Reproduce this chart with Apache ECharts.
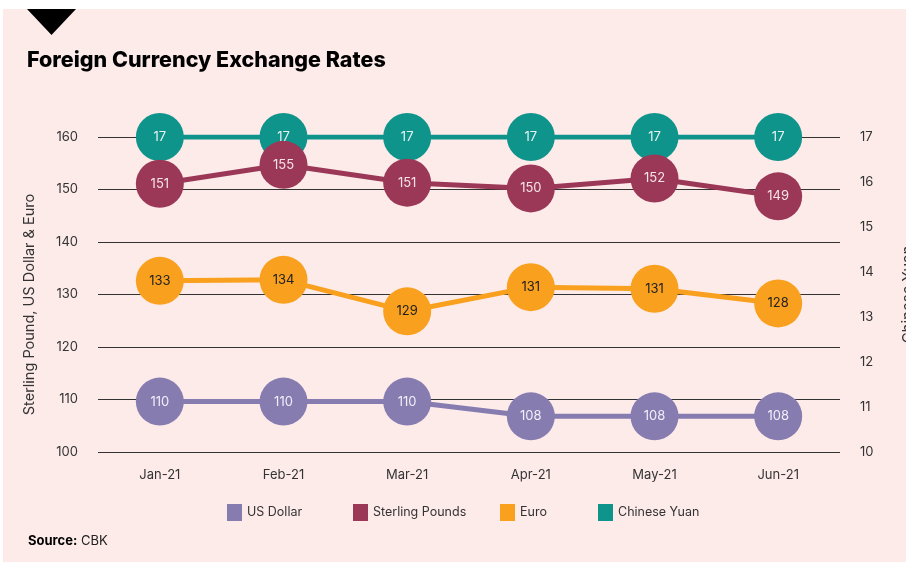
<!DOCTYPE html>
<html>
<head>
<meta charset="utf-8">
<script src="https://cdn.jsdelivr.net/npm/echarts@6/dist/echarts.min.js"></script>
<style>
  html, body { margin: 0; padding: 0; background: #fff; }
</style>
</head>
<body>
<div style="width:906px;height:562px;" id="fx_rates"></div>
<script>
// months on the x axis
var months = ['Jan-21', 'Feb-21', 'Mar-21', 'Apr-21', 'May-21', 'Jun-21'];

// values read from where the points sit on the axes
var usDollar = [109.6, 109.6, 109.6, 106.8, 106.8, 106.8];
var sterling = [151.1, 154.7, 151.3, 150.2, 152.1, 148.7];
var euro = [132.6, 132.8, 126.8, 131.4, 131.1, 128.3];
var yuan = [17, 17, 17, 17, 17, 17];

// numbers printed inside the circles
var usDollarLabels = ['110', '110', '110', '108', '108', '108'];
var sterlingLabels = ['151', '155', '151', '150', '152', '149'];
var euroLabels = ['133', '134', '129', '131', '131', '128'];
var yuanLabels = ['17', '17', '17', '17', '17', '17'];

// legend entries
var legendNames = ['US Dollar', 'Sterling Pounds', 'Euro', 'Chinese Yuan'];

// axis ranges
var leftMin = 100, leftMax = 160, leftStep = 10;
var rightMin = 10, rightMax = 17, rightStep = 1;

var font = 'Inter, "Noto Sans", sans-serif';

function lineSeries (name, data, labels, color, textColor, yIndex) {
    return {
        name: name,
        type: 'line',
        yAxisIndex: yIndex,
        data: data,
        symbol: 'circle',
        symbolSize: 48,
        lineStyle: { color: color, width: 5 },
        itemStyle: { color: color },
        label: {
            show: true,
            position: 'inside',
            fontFamily: font,
            fontSize: 13,
            color: textColor,
            formatter: function (p) { return labels[p.dataIndex]; }
        },
        emphasis: { disabled: true },
        animation: false
    };
}

// one legend per entry so the spacing follows the original
var legendLefts = [227, 353, 500, 598];
var legends = legendNames.map(function (n, i) {
    return {
        left: legendLefts[i], top: 504,
        padding: 0,
        itemWidth: 15, itemHeight: 17,
        icon: 'rect',
        data: [n],
        textStyle: { fontFamily: font, fontSize: 12.5, color: '#333' },
        selectedMode: false
    };
});

var option = {
    backgroundColor: '#ffffff',
    textStyle: { fontFamily: font },
    graphic: [
        { type: 'rect', z: -10, shape: { x: 3, y: 9, width: 903, height: 553 }, style: { fill: '#fdebea' } },
        { type: 'polygon', shape: { points: [[27, 9], [76, 9], [51.5, 35]] }, style: { fill: '#000' } }
    ],
    title: [
        {
            text: 'Foreign Currency Exchange Rates',
            left: 27, top: 50, padding: 0,
            textStyle: { fontFamily: font, fontSize: 21.5, fontWeight: 800, color: '#000' }
        },
        {
            text: '{b|Source:} CBK',
            left: 28, top: 535, padding: 0,
            textStyle: {
                fontFamily: font, fontSize: 13, fontWeight: 'normal', color: '#222',
                rich: { b: { fontFamily: font, fontSize: 13, fontWeight: 'bold', color: '#000' } }
            }
        }
    ],
    legend: legends,
    grid: { left: 98, right: 66, top: 137, bottom: 110, outerBoundsMode: 'none' },
    xAxis: {
        type: 'category',
        data: months,
        boundaryGap: true,
        axisLine: { show: false },
        axisTick: { show: false },
        axisLabel: { color: '#333', fontSize: 13, margin: 17, fontFamily: font }
    },
    yAxis: [
        {
            type: 'value',
            min: leftMin, max: leftMax, interval: leftStep,
            name: 'Sterling Pound, US Dollar & Euro',
            nameLocation: 'middle',
            nameGap: 61,
            nameRotate: 90,
            nameTextStyle: { fontSize: 14.5, color: '#333', fontFamily: font, padding: [0, 20, 0, 0] },
            axisLine: { show: false },
            axisTick: { show: false },
            axisLabel: { color: '#333', fontSize: 13, margin: 20, fontFamily: font },
            splitLine: { lineStyle: { color: '#333', width: 1 } }
        },
        {
            type: 'value',
            min: rightMin, max: rightMax, interval: rightStep,
            name: 'Chinese Yuan',
            nameLocation: 'middle',
            nameGap: 61,
            nameRotate: 90,
            nameTextStyle: { fontSize: 15, color: '#333', fontFamily: font },
            axisLine: { show: false },
            axisTick: { show: false },
            axisLabel: { color: '#333', fontSize: 13, margin: 20, fontFamily: font },
            splitLine: { show: false }
        }
    ],
    series: [
        lineSeries('Chinese Yuan', yuan, yuanLabels, '#0e948b', '#e6f2f0', 1),
        lineSeries('Sterling Pounds', sterling, sterlingLabels, '#9b3857', '#f6e3ea', 0),
        lineSeries('Euro', euro, euroLabels, '#f9a01f', '#222', 0),
        lineSeries('US Dollar', usDollar, usDollarLabels, '#877cb0', '#f3eef8', 0)
    ]
};

var fxChart = echarts.init(document.getElementById('fx_rates'));
fxChart.setOption(option);

window.addEventListener('resize', function () {
    fxChart.resize();
});
</script>
</body>
</html>
